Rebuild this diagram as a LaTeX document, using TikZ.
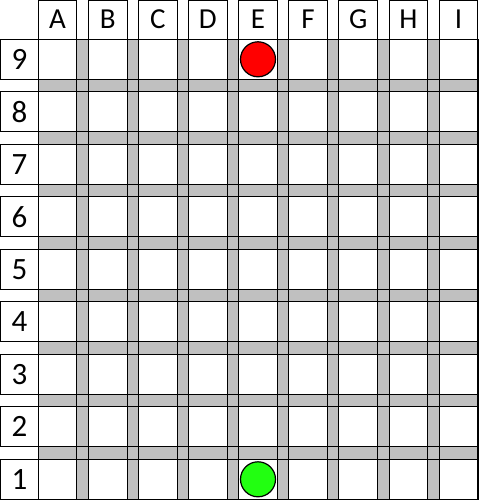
\documentclass[tikz,border=0pt]{standalone}
\usepackage{fontspec}
\setmainfont{Carlito}
\usetikzlibrary{positioning}

\definecolor{gapgray}{RGB}{192,192,192}
\definecolor{stonegreen}{RGB}{34,255,17}

\tikzset{
  headbox/.style={shape=rectangle, draw, line width=1pt, inner sep=0pt, outer sep=0pt,
    minimum width=38.6pt, minimum height=39pt, font=\fontsize{29}{32}\selectfont, text depth=2pt},
  rowbox/.style={shape=rectangle, draw, line width=1pt, inner sep=0pt, outer sep=0pt,
    minimum width=38pt, minimum height=40pt, font=\fontsize{31}{34}\selectfont},
  cellbox/.style={shape=rectangle, fill=white, inner sep=0pt, outer sep=0pt,
    minimum width=38.6pt, minimum height=40pt},
  stone/.style={shape=circle, draw, line width=1.2pt, inner sep=0pt, minimum size=35pt}
}

\begin{document}
\begin{tikzpicture}[x=1pt, y=-1pt]
\useasboundingbox (0,0) rectangle (480,501);

% board background
\fill[gapgray] (38.3,39.3) rectangle (477.7,499.3);

% column heads and white cells
\foreach \c [count=\i from 0] in {A,B,C,D,E,F,G,H,I} {
  \node [headbox, anchor=north west] (col\c) at (38.3+50.1*\i, 0.6) {\c};
  \foreach \r [count=\j from 0] in {9,8,7,6,5,4,3,2,1}
    \node [cellbox, anchor=north west] (\c\r) at (38.3+50.1*\i, 39.3+52.5*\j) {};
}

% row labels
\foreach \r [count=\j from 0] in {9,8,7,6,5,4,3,2,1}
  \node [rowbox, anchor=north west] (row\r) at (0.6, 39.3+52.5*\j) {\r};

% grid lines
\foreach \i in {0,...,8} {
  \draw[line width=1pt] (38.3+50.1*\i, 39.3) -- (38.3+50.1*\i, 499.3);
  \draw[line width=1pt] (76.9+50.1*\i, 39.3) -- (76.9+50.1*\i, 499.3);
}
\foreach \j in {0,...,8} {
  \draw[line width=1pt] (38.3, 39.3+52.5*\j) -- (477.7, 39.3+52.5*\j);
  \draw[line width=1pt] (38.3, 79.3+52.5*\j) -- (477.7, 79.3+52.5*\j);
}
\draw[line width=1.6pt] (38.3,39.3) rectangle (477.7,499.3);

% stones
\node [stone, fill=red] (redstone) at (E9) {};
\node [stone, fill=stonegreen] (greenstone) at (E1) {};
\end{tikzpicture}
\end{document}
